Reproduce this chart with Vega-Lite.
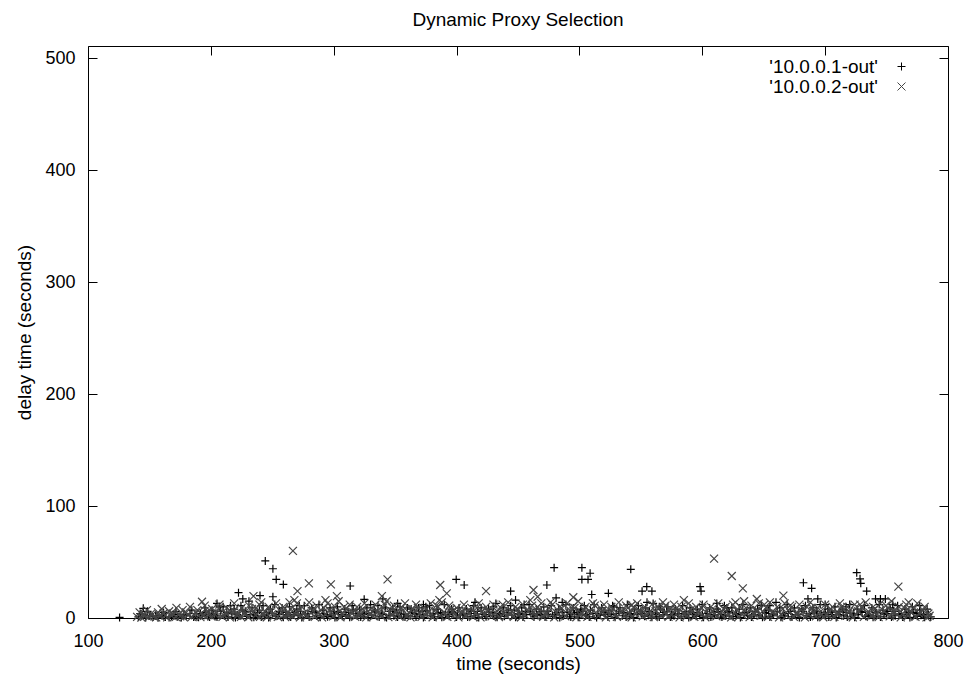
{
"$schema": "https://vega.github.io/schema/vega-lite/v6.json",
"width": 860, "height": 572,
"autosize": "none",
"padding": {"left": 88, "top": 46, "right": 20, "bottom": 63},
"background": "white",
"config": {"view": {"stroke": "#000000", "strokeWidth": 1}, "font": "Liberation Sans"},
"title": {"text": "Dynamic Proxy Selection", "font": "Liberation Sans", "fontSize": 19, "fontWeight": "normal", "color": "#000000", "anchor": "middle", "frame": "group", "baseline": "alphabetic", "offset": 1},
"data": {"values": [
{"t":125.7,"d":0.5,"s":"1"},{"t":141,"d":1,"s":"1"},{"t":144,"d":3,"s":"1"},{"t":147,"d":0.5,"s":"1"},{"t":150,"d":2,"s":"1"},{"t":153,"d":1,"s":"1"},{"t":157,"d":0.3,"s":"1"},{"t":160,"d":2.5,"s":"1"},{"t":163,"d":1,"s":"1"},{"t":166,"d":0.5,"s":"1"},
{"t":170,"d":3,"s":"1"},{"t":173,"d":1.2,"s":"1"},{"t":176,"d":0.4,"s":"1"},{"t":180,"d":2,"s":"1"},{"t":183,"d":4,"s":"1"},{"t":186,"d":1,"s":"1"},{"t":190,"d":0.6,"s":"1"},{"t":193,"d":2.5,"s":"1"},{"t":196,"d":5,"s":"1"},{"t":199,"d":1,"s":"1"},
{"t":202,"d":3,"s":"1"},{"t":205,"d":0.8,"s":"1"},{"t":208,"d":6,"s":"1"},{"t":211,"d":2,"s":"1"},{"t":214,"d":1,"s":"1"},{"t":217,"d":4,"s":"1"},{"t":220,"d":0.5,"s":"1"},{"t":223,"d":2,"s":"1"},{"t":226,"d":7,"s":"1"},{"t":229,"d":1.5,"s":"1"},
{"t":232,"d":3,"s":"1"},{"t":235,"d":0.6,"s":"1"},{"t":238,"d":5,"s":"1"},{"t":241,"d":1,"s":"1"},{"t":244,"d":2.5,"s":"1"},{"t":247,"d":0.4,"s":"1"},{"t":250,"d":4,"s":"1"},{"t":253,"d":1.5,"s":"1"},{"t":256,"d":6,"s":"1"},{"t":259,"d":0.7,"s":"1"},
{"t":262,"d":3,"s":"1"},{"t":265,"d":1,"s":"1"},{"t":268,"d":5,"s":"1"},{"t":271,"d":2,"s":"1"},{"t":274,"d":0.5,"s":"1"},{"t":277,"d":3.5,"s":"1"},{"t":280,"d":1,"s":"1"},{"t":283,"d":6,"s":"1"},{"t":286,"d":2,"s":"1"},{"t":289,"d":0.6,"s":"1"},
{"t":292,"d":4,"s":"1"},{"t":295,"d":1.2,"s":"1"},{"t":298,"d":2.5,"s":"1"},{"t":301,"d":0.5,"s":"1"},{"t":304,"d":5,"s":"1"},{"t":307,"d":1.5,"s":"1"},{"t":310,"d":3,"s":"1"},{"t":313,"d":0.7,"s":"1"},{"t":316,"d":7,"s":"1"},{"t":319,"d":2,"s":"1"},
{"t":322,"d":1,"s":"1"},{"t":325,"d":4,"s":"1"},{"t":328,"d":0.6,"s":"1"},{"t":331,"d":2.5,"s":"1"},{"t":334,"d":5.5,"s":"1"},{"t":337,"d":1,"s":"1"},{"t":340,"d":3,"s":"1"},{"t":343,"d":0.5,"s":"1"},{"t":346,"d":6,"s":"1"},{"t":349,"d":2,"s":"1"},
{"t":352,"d":1,"s":"1"},{"t":355,"d":4,"s":"1"},{"t":358,"d":0.8,"s":"1"},{"t":361,"d":2,"s":"1"},{"t":364,"d":5,"s":"1"},{"t":367,"d":1,"s":"1"},{"t":370,"d":3,"s":"1"},{"t":373,"d":0.5,"s":"1"},{"t":376,"d":6.5,"s":"1"},{"t":379,"d":2,"s":"1"},
{"t":382,"d":1,"s":"1"},{"t":385,"d":4,"s":"1"},{"t":388,"d":0.6,"s":"1"},{"t":391,"d":3,"s":"1"},{"t":394,"d":1.5,"s":"1"},{"t":397,"d":5,"s":"1"},{"t":400,"d":0.8,"s":"1"},{"t":403,"d":2.5,"s":"1"},{"t":406,"d":4,"s":"1"},{"t":409,"d":1,"s":"1"},
{"t":412,"d":6,"s":"1"},{"t":415,"d":2,"s":"1"},{"t":418,"d":0.5,"s":"1"},{"t":421,"d":3.5,"s":"1"},{"t":424,"d":1.2,"s":"1"},{"t":427,"d":5,"s":"1"},{"t":430,"d":2,"s":"1"},{"t":433,"d":0.7,"s":"1"},{"t":436,"d":4,"s":"1"},{"t":439,"d":1.5,"s":"1"},
{"t":442,"d":7,"s":"1"},{"t":445,"d":2.5,"s":"1"},{"t":448,"d":0.6,"s":"1"},{"t":451,"d":4,"s":"1"},{"t":454,"d":1,"s":"1"},{"t":457,"d":3,"s":"1"},{"t":460,"d":5.5,"s":"1"},{"t":463,"d":1,"s":"1"},{"t":466,"d":2.5,"s":"1"},{"t":469,"d":6,"s":"1"},
{"t":472,"d":0.8,"s":"1"},{"t":475,"d":3,"s":"1"},{"t":478,"d":1.5,"s":"1"},{"t":481,"d":4.5,"s":"1"},{"t":484,"d":0.5,"s":"1"},{"t":487,"d":2,"s":"1"},{"t":490,"d":5,"s":"1"},{"t":493,"d":1,"s":"1"},{"t":496,"d":3.5,"s":"1"},{"t":499,"d":0.7,"s":"1"},
{"t":502,"d":6,"s":"1"},{"t":505,"d":2,"s":"1"},{"t":508,"d":1,"s":"1"},{"t":511,"d":4,"s":"1"},{"t":514,"d":0.5,"s":"1"},{"t":517,"d":2.5,"s":"1"},{"t":520,"d":5,"s":"1"},{"t":523,"d":1.2,"s":"1"},{"t":526,"d":3,"s":"1"},{"t":529,"d":0.6,"s":"1"},
{"t":532,"d":6,"s":"1"},{"t":535,"d":2,"s":"1"},{"t":538,"d":1,"s":"1"},{"t":541,"d":4,"s":"1"},{"t":544,"d":0.5,"s":"1"},{"t":547,"d":3,"s":"1"},{"t":550,"d":5.5,"s":"1"},{"t":553,"d":1.5,"s":"1"},{"t":556,"d":2.5,"s":"1"},{"t":559,"d":0.7,"s":"1"},
{"t":562,"d":4.5,"s":"1"},{"t":565,"d":1,"s":"1"},{"t":568,"d":3,"s":"1"},{"t":571,"d":6,"s":"1"},{"t":574,"d":0.8,"s":"1"},{"t":577,"d":2,"s":"1"},{"t":580,"d":4,"s":"1"},{"t":583,"d":1,"s":"1"},{"t":586,"d":3,"s":"1"},{"t":589,"d":0.5,"s":"1"},
{"t":592,"d":5,"s":"1"},{"t":595,"d":1.5,"s":"1"},{"t":598,"d":2.5,"s":"1"},{"t":601,"d":0.6,"s":"1"},{"t":604,"d":4,"s":"1"},{"t":607,"d":1,"s":"1"},{"t":610,"d":3,"s":"1"},{"t":613,"d":6,"s":"1"},{"t":616,"d":0.8,"s":"1"},{"t":619,"d":2,"s":"1"},
{"t":622,"d":5,"s":"1"},{"t":625,"d":1.2,"s":"1"},{"t":628,"d":3,"s":"1"},{"t":631,"d":0.5,"s":"1"},{"t":634,"d":4.5,"s":"1"},{"t":637,"d":2,"s":"1"},{"t":640,"d":1,"s":"1"},{"t":643,"d":6,"s":"1"},{"t":646,"d":2.5,"s":"1"},{"t":649,"d":0.7,"s":"1"},
{"t":652,"d":4,"s":"1"},{"t":655,"d":1,"s":"1"},{"t":658,"d":3,"s":"1"},{"t":661,"d":5.5,"s":"1"},{"t":664,"d":0.6,"s":"1"},{"t":667,"d":2,"s":"1"},{"t":670,"d":4,"s":"1"},{"t":673,"d":1,"s":"1"},{"t":676,"d":3,"s":"1"},{"t":679,"d":0.5,"s":"1"},
{"t":682,"d":6,"s":"1"},{"t":685,"d":2,"s":"1"},{"t":688,"d":1,"s":"1"},{"t":691,"d":4.5,"s":"1"},{"t":694,"d":0.7,"s":"1"},{"t":697,"d":2.5,"s":"1"},{"t":700,"d":5,"s":"1"},{"t":703,"d":1,"s":"1"},{"t":706,"d":3,"s":"1"},{"t":709,"d":0.5,"s":"1"},
{"t":712,"d":6,"s":"1"},{"t":715,"d":2,"s":"1"},{"t":718,"d":1,"s":"1"},{"t":721,"d":4,"s":"1"},{"t":724,"d":0.6,"s":"1"},{"t":727,"d":3,"s":"1"},{"t":730,"d":5,"s":"1"},{"t":733,"d":1.5,"s":"1"},{"t":736,"d":2.5,"s":"1"},{"t":739,"d":0.7,"s":"1"},
{"t":742,"d":4.5,"s":"1"},{"t":745,"d":1,"s":"1"},{"t":748,"d":3,"s":"1"},{"t":751,"d":6,"s":"1"},{"t":754,"d":0.8,"s":"1"},{"t":757,"d":2,"s":"1"},{"t":760,"d":4,"s":"1"},{"t":763,"d":1,"s":"1"},{"t":766,"d":3,"s":"1"},{"t":769,"d":0.5,"s":"1"},
{"t":772,"d":5,"s":"1"},{"t":775,"d":1.5,"s":"1"},{"t":778,"d":2.5,"s":"1"},{"t":781,"d":0.6,"s":"1"},{"t":784,"d":3,"s":"1"},
{"t":142.5,"d":4,"s":"1"},{"t":148.5,"d":6,"s":"1"},{"t":155,"d":2,"s":"1"},{"t":161.5,"d":5,"s":"1"},{"t":168,"d":1.5,"s":"1"},{"t":171.5,"d":6,"s":"1"},{"t":178,"d":3,"s":"1"},{"t":184.5,"d":7,"s":"1"},{"t":188,"d":1.5,"s":"1"},{"t":191.5,"d":4,"s":"1"},
{"t":195,"d":9,"s":"1"},{"t":198,"d":3,"s":"1"},{"t":201,"d":7,"s":"1"},{"t":204,"d":2,"s":"1"},{"t":207,"d":10,"s":"1"},{"t":213,"d":5,"s":"1"},{"t":219,"d":8,"s":"1"},{"t":221.5,"d":3,"s":"1"},{"t":224.5,"d":11,"s":"1"},{"t":228,"d":6,"s":"1"},
{"t":233.5,"d":9,"s":"1"},{"t":236.5,"d":2,"s":"1"},{"t":239.5,"d":7,"s":"1"},{"t":242.5,"d":11,"s":"1"},{"t":245.5,"d":5,"s":"1"},{"t":248.5,"d":8,"s":"1"},{"t":252,"d":12,"s":"1"},{"t":255,"d":3,"s":"1"},{"t":258,"d":9,"s":"1"},{"t":261,"d":5,"s":"1"},
{"t":264,"d":10,"s":"1"},{"t":267,"d":3,"s":"1"},{"t":270,"d":8,"s":"1"},{"t":273,"d":6,"s":"1"},{"t":276,"d":11,"s":"1"},{"t":279,"d":4,"s":"1"},{"t":282,"d":9,"s":"1"},{"t":285,"d":5,"s":"1"},{"t":288,"d":12,"s":"1"},{"t":291,"d":7,"s":"1"},
{"t":294,"d":3,"s":"1"},{"t":297,"d":9,"s":"1"},{"t":300,"d":6,"s":"1"},{"t":303,"d":10,"s":"1"},{"t":306,"d":3,"s":"1"},{"t":309,"d":8,"s":"1"},{"t":312,"d":5,"s":"1"},{"t":315,"d":11,"s":"1"},{"t":318,"d":4,"s":"1"},{"t":321,"d":8,"s":"1"},
{"t":324,"d":3,"s":"1"},{"t":327,"d":9,"s":"1"},{"t":333,"d":7,"s":"1"},{"t":336,"d":11,"s":"1"},{"t":339,"d":4,"s":"1"},{"t":342,"d":9,"s":"1"},{"t":345,"d":2,"s":"1"},{"t":348,"d":8,"s":"1"},{"t":351,"d":5,"s":"1"},{"t":354,"d":10,"s":"1"},
{"t":357,"d":3,"s":"1"},{"t":363,"d":8,"s":"1"},{"t":366,"d":4,"s":"1"},{"t":369,"d":9,"s":"1"},{"t":372,"d":6,"s":"1"},{"t":378,"d":11,"s":"1"},{"t":381,"d":4,"s":"1"},{"t":384,"d":8,"s":"1"},{"t":387,"d":5,"s":"1"},{"t":390,"d":12,"s":"1"},
{"t":393,"d":3,"s":"1"},{"t":396,"d":6,"s":"1"},{"t":402,"d":9,"s":"1"},{"t":405,"d":3,"s":"1"},{"t":408,"d":8,"s":"1"},{"t":411,"d":4,"s":"1"},{"t":414,"d":11,"s":"1"},{"t":417,"d":6,"s":"1"},{"t":420,"d":9,"s":"1"},{"t":423,"d":3,"s":"1"},
{"t":426,"d":8,"s":"1"},{"t":429,"d":5,"s":"1"},{"t":432,"d":13,"s":"1"},{"t":435,"d":3,"s":"1"},{"t":438,"d":9,"s":"1"},{"t":441,"d":5,"s":"1"},{"t":444,"d":11,"s":"1"},{"t":447,"d":7,"s":"1"},{"t":450,"d":3,"s":"1"},{"t":453,"d":9,"s":"1"},
{"t":456,"d":6,"s":"1"},{"t":459,"d":12,"s":"1"},{"t":462,"d":4,"s":"1"},{"t":465,"d":8,"s":"1"},{"t":468,"d":3,"s":"1"},{"t":471,"d":10,"s":"1"},{"t":474,"d":6,"s":"1"},{"t":477,"d":11,"s":"1"},{"t":480,"d":3,"s":"1"},{"t":483,"d":8,"s":"1"},
{"t":486,"d":5,"s":"1"},{"t":489,"d":12,"s":"1"},{"t":492,"d":3,"s":"1"},{"t":495,"d":9,"s":"1"},{"t":498,"d":5,"s":"1"},{"t":501,"d":8,"s":"1"},{"t":504,"d":11,"s":"1"},{"t":506,"d":3,"s":"1"},{"t":509,"d":7,"s":"1"},{"t":512,"d":12,"s":"1"},
{"t":515,"d":4,"s":"1"},{"t":518,"d":9,"s":"1"},{"t":521,"d":3,"s":"1"},{"t":524,"d":7,"s":"1"},{"t":527,"d":11,"s":"1"},{"t":530,"d":4,"s":"1"},{"t":533,"d":9,"s":"1"},{"t":536,"d":5,"s":"1"},{"t":539,"d":12,"s":"1"},{"t":542,"d":3,"s":"1"},
{"t":545,"d":8,"s":"1"},{"t":548,"d":11,"s":"1"},{"t":551,"d":4,"s":"1"},{"t":554,"d":9,"s":"1"},{"t":557,"d":6,"s":"1"},{"t":560,"d":13,"s":"1"},{"t":563,"d":3,"s":"1"},{"t":566,"d":8,"s":"1"},{"t":569,"d":5,"s":"1"},{"t":572,"d":10,"s":"1"},
{"t":575,"d":3,"s":"1"},{"t":578,"d":8,"s":"1"},{"t":581,"d":4,"s":"1"},{"t":584,"d":11,"s":"1"},{"t":587,"d":6,"s":"1"},{"t":590,"d":9,"s":"1"},{"t":593,"d":3,"s":"1"},{"t":596,"d":8,"s":"1"},{"t":600,"d":12,"s":"1"},{"t":603,"d":4,"s":"1"},
{"t":606,"d":9,"s":"1"},{"t":609,"d":5,"s":"1"},{"t":612,"d":8,"s":"1"},{"t":615,"d":3,"s":"1"},{"t":618,"d":11,"s":"1"},{"t":621,"d":6,"s":"1"},{"t":624,"d":9,"s":"1"},{"t":627,"d":4,"s":"1"},{"t":630,"d":8,"s":"1"},{"t":633,"d":12,"s":"1"},
{"t":636,"d":5,"s":"1"},{"t":639,"d":9,"s":"1"},{"t":642,"d":3,"s":"1"},{"t":645,"d":8,"s":"1"},{"t":648,"d":11,"s":"1"},{"t":651,"d":5,"s":"1"},{"t":654,"d":7,"s":"1"},{"t":657,"d":3,"s":"1"},{"t":663,"d":9,"s":"1"},{"t":666,"d":4,"s":"1"},
{"t":669,"d":12,"s":"1"},{"t":672,"d":6,"s":"1"},{"t":675,"d":9,"s":"1"},{"t":678,"d":3,"s":"1"},{"t":681,"d":8,"s":"1"},{"t":684,"d":11,"s":"1"},{"t":687,"d":4,"s":"1"},{"t":690,"d":9,"s":"1"},{"t":693,"d":6,"s":"1"},{"t":696,"d":12,"s":"1"},
{"t":699,"d":3,"s":"1"},{"t":702,"d":8,"s":"1"},{"t":705,"d":5,"s":"1"},{"t":708,"d":10,"s":"1"},{"t":711,"d":3,"s":"1"},{"t":714,"d":8,"s":"1"},{"t":717,"d":5,"s":"1"},{"t":720,"d":12,"s":"1"},{"t":723,"d":4,"s":"1"},{"t":726,"d":8,"s":"1"},
{"t":729,"d":6,"s":"1"},{"t":732,"d":11,"s":"1"},{"t":735,"d":3,"s":"1"},{"t":738,"d":9,"s":"1"},{"t":741,"d":5,"s":"1"},{"t":744,"d":12,"s":"1"},{"t":747,"d":7,"s":"1"},{"t":750,"d":4,"s":"1"},{"t":753,"d":9,"s":"1"},{"t":756,"d":6,"s":"1"},
{"t":759,"d":11,"s":"1"},{"t":762,"d":3,"s":"1"},{"t":765,"d":8,"s":"1"},{"t":768,"d":5,"s":"1"},{"t":771,"d":10,"s":"1"},{"t":774,"d":4,"s":"1"},{"t":777,"d":7,"s":"1"},{"t":780,"d":3,"s":"1"},{"t":783,"d":8,"s":"1"},{"t":786,"d":1,"s":"1"},
{"t":145,"d":8.6,"s":"1"},{"t":205,"d":13,"s":"1"},{"t":210,"d":10,"s":"1"},{"t":216,"d":11,"s":"1"},{"t":222.5,"d":22.6,"s":"1"},{"t":226,"d":17,"s":"1"},{"t":231,"d":15,"s":"1"},{"t":240,"d":20,"s":"1"},{"t":244.3,"d":51,"s":"1"},{"t":250.5,"d":44,"s":"1"},
{"t":250.5,"d":19,"s":"1"},{"t":253.2,"d":34.5,"s":"1"},{"t":259,"d":30,"s":"1"},{"t":272,"d":11,"s":"1"},{"t":313.4,"d":28.6,"s":"1"},{"t":324.8,"d":16.7,"s":"1"},{"t":330,"d":12,"s":"1"},{"t":352,"d":13,"s":"1"},{"t":360,"d":9,"s":"1"},{"t":373,"d":12,"s":"1"},
{"t":396,"d":8,"s":"1"},{"t":399.7,"d":34.5,"s":"1"},{"t":406.2,"d":29.5,"s":"1"},{"t":415,"d":14,"s":"1"},{"t":430,"d":10,"s":"1"},{"t":444,"d":24,"s":"1"},{"t":448,"d":16,"s":"1"},{"t":455,"d":12,"s":"1"},{"t":473.5,"d":29.5,"s":"1"},{"t":479.4,"d":45,"s":"1"},
{"t":481,"d":18,"s":"1"},{"t":486,"d":14,"s":"1"},{"t":502,"d":45,"s":"1"},{"t":502,"d":34.5,"s":"1"},{"t":507,"d":34.5,"s":"1"},{"t":508.7,"d":40,"s":"1"},{"t":510,"d":21,"s":"1"},{"t":523.6,"d":22,"s":"1"},{"t":528,"d":10,"s":"1"},{"t":541.8,"d":43.5,"s":"1"},
{"t":551,"d":24,"s":"1"},{"t":554.8,"d":28,"s":"1"},{"t":559,"d":24,"s":"1"},{"t":555,"d":14,"s":"1"},{"t":565,"d":10,"s":"1"},{"t":598.2,"d":28,"s":"1"},{"t":599,"d":24,"s":"1"},{"t":611.8,"d":13,"s":"1"},{"t":620,"d":9,"s":"1"},{"t":655,"d":11,"s":"1"},
{"t":682.3,"d":31.5,"s":"1"},{"t":686,"d":17,"s":"1"},{"t":689,"d":26.5,"s":"1"},{"t":694,"d":17,"s":"1"},{"t":700,"d":12,"s":"1"},{"t":725.7,"d":40.5,"s":"1"},{"t":728.4,"d":35,"s":"1"},{"t":729,"d":31,"s":"1"},{"t":733.8,"d":24,"s":"1"},{"t":741,"d":17,"s":"1"},
{"t":745,"d":17,"s":"1"},{"t":749,"d":17,"s":"1"},{"t":755,"d":12,"s":"1"},{"t":777,"d":11,"s":"1"},{"t":717,"d":10,"s":"1"},{"t":660,"d":14,"s":"1"},{"t":375,"d":10,"s":"1"},{"t":340,"d":17,"s":"1"},
{"t":140,"d":1,"s":"2"},{"t":143.5,"d":0.4,"s":"2"},{"t":146.5,"d":2,"s":"2"},{"t":149.5,"d":1,"s":"2"},{"t":152.5,"d":3,"s":"2"},{"t":155.5,"d":0.6,"s":"2"},{"t":158.5,"d":1.8,"s":"2"},{"t":161.5,"d":4,"s":"2"},{"t":164.5,"d":0.5,"s":"2"},{"t":168,"d":2,"s":"2"},
{"t":171.5,"d":1,"s":"2"},{"t":174.5,"d":3.5,"s":"2"},{"t":177,"d":7,"s":"2"},{"t":178,"d":0.6,"s":"2"},{"t":181.5,"d":2.5,"s":"2"},{"t":184.5,"d":1,"s":"2"},{"t":188,"d":4.5,"s":"2"},{"t":191.5,"d":0.8,"s":"2"},{"t":192.8,"d":14.5,"s":"2"},{"t":194.5,"d":2,"s":"2"},
{"t":197.5,"d":6,"s":"2"},{"t":200.5,"d":1.2,"s":"2"},{"t":203.5,"d":3,"s":"2"},{"t":206.5,"d":9,"s":"2"},{"t":209.5,"d":1,"s":"2"},{"t":212.5,"d":4,"s":"2"},{"t":215.5,"d":0.5,"s":"2"},{"t":218.5,"d":6.5,"s":"2"},{"t":221.5,"d":2,"s":"2"},{"t":224.5,"d":1,"s":"2"},
{"t":227.5,"d":5,"s":"2"},{"t":230.5,"d":0.7,"s":"2"},{"t":233.5,"d":8,"s":"2"},{"t":234.7,"d":19.6,"s":"2"},{"t":236.5,"d":2.5,"s":"2"},{"t":239.5,"d":12,"s":"2"},{"t":240,"d":1,"s":"2"},{"t":242.5,"d":4,"s":"2"},{"t":245.5,"d":0.6,"s":"2"},{"t":248.5,"d":7,"s":"2"},
{"t":251.5,"d":2,"s":"2"},{"t":254.5,"d":1,"s":"2"},{"t":257.5,"d":5,"s":"2"},{"t":260.5,"d":0.8,"s":"2"},{"t":263.5,"d":3,"s":"2"},{"t":264,"d":14,"s":"2"},{"t":266.8,"d":60,"s":"2"},{"t":266.5,"d":1.5,"s":"2"},{"t":269.5,"d":6,"s":"2"},{"t":270,"d":13,"s":"2"},
{"t":270.5,"d":24,"s":"2"},{"t":272.5,"d":0.5,"s":"2"},{"t":275.5,"d":4,"s":"2"},{"t":278.5,"d":2,"s":"2"},{"t":279.8,"d":31,"s":"2"},{"t":281.5,"d":9,"s":"2"},{"t":284.5,"d":1,"s":"2"},{"t":287.5,"d":5,"s":"2"},{"t":290.5,"d":0.6,"s":"2"},{"t":293.3,"d":16,"s":"2"},
{"t":293.5,"d":3,"s":"2"},{"t":296.5,"d":7,"s":"2"},{"t":297.7,"d":30,"s":"2"},{"t":299.5,"d":1.5,"s":"2"},{"t":302.6,"d":19.6,"s":"2"},{"t":302.5,"d":4,"s":"2"},{"t":305.5,"d":0.7,"s":"2"},{"t":308.5,"d":10,"s":"2"},{"t":311.5,"d":2,"s":"2"},{"t":314.5,"d":5,"s":"2"},
{"t":317.5,"d":1,"s":"2"},{"t":320.5,"d":3,"s":"2"},{"t":323.5,"d":8,"s":"2"},{"t":326.5,"d":0.5,"s":"2"},{"t":329.5,"d":4,"s":"2"},{"t":332.5,"d":1.5,"s":"2"},{"t":335.5,"d":6,"s":"2"},{"t":338.5,"d":2,"s":"2"},{"t":339.2,"d":19.6,"s":"2"},{"t":341.5,"d":12,"s":"2"},
{"t":343.8,"d":34.5,"s":"2"},{"t":344.5,"d":0.8,"s":"2"},{"t":347.5,"d":3,"s":"2"},{"t":348,"d":9,"s":"2"},{"t":350.5,"d":5,"s":"2"},{"t":353.5,"d":1,"s":"2"},{"t":356.5,"d":7,"s":"2"},{"t":359.5,"d":2,"s":"2"},{"t":362.5,"d":0.5,"s":"2"},{"t":365.5,"d":4,"s":"2"},
{"t":368.5,"d":9,"s":"2"},{"t":371.5,"d":1,"s":"2"},{"t":374.5,"d":3,"s":"2"},{"t":377.5,"d":6,"s":"2"},{"t":380.5,"d":0.7,"s":"2"},{"t":383.5,"d":11,"s":"2"},{"t":386,"d":16,"s":"2"},{"t":386.7,"d":29.5,"s":"2"},{"t":386.5,"d":2,"s":"2"},{"t":389.5,"d":5,"s":"2"},
{"t":392,"d":22,"s":"2"},{"t":392.5,"d":1,"s":"2"},{"t":395.5,"d":8,"s":"2"},{"t":398.5,"d":3,"s":"2"},{"t":401.5,"d":0.6,"s":"2"},{"t":404.5,"d":6,"s":"2"},{"t":407.5,"d":2,"s":"2"},{"t":410.5,"d":4,"s":"2"},{"t":413.5,"d":1,"s":"2"},{"t":416.5,"d":9,"s":"2"},
{"t":419.5,"d":0.5,"s":"2"},{"t":422.5,"d":3,"s":"2"},{"t":424,"d":24,"s":"2"},{"t":425.5,"d":7,"s":"2"},{"t":428.5,"d":1.5,"s":"2"},{"t":431.5,"d":5,"s":"2"},{"t":434.5,"d":0.8,"s":"2"},{"t":437.5,"d":12,"s":"2"},{"t":440.5,"d":2,"s":"2"},{"t":443.5,"d":4,"s":"2"},
{"t":446.5,"d":1,"s":"2"},{"t":449.5,"d":8,"s":"2"},{"t":452.5,"d":0.6,"s":"2"},{"t":455.5,"d":3,"s":"2"},{"t":458.5,"d":6,"s":"2"},{"t":461.5,"d":11,"s":"2"},{"t":462.6,"d":25,"s":"2"},{"t":464.5,"d":2,"s":"2"},{"t":466,"d":19,"s":"2"},{"t":467.5,"d":7,"s":"2"},
{"t":470.5,"d":1,"s":"2"},{"t":473.5,"d":4,"s":"2"},{"t":476.5,"d":14,"s":"2"},{"t":479.5,"d":0.5,"s":"2"},{"t":482.5,"d":3,"s":"2"},{"t":485.5,"d":9,"s":"2"},{"t":488.5,"d":1.5,"s":"2"},{"t":491.5,"d":5,"s":"2"},{"t":494.5,"d":10,"s":"2"},{"t":495,"d":18.5,"s":"2"},
{"t":497.5,"d":0.7,"s":"2"},{"t":500.5,"d":3,"s":"2"},{"t":503.5,"d":7,"s":"2"},{"t":506.5,"d":1,"s":"2"},{"t":509.5,"d":4,"s":"2"},{"t":512.5,"d":11,"s":"2"},{"t":515.5,"d":2,"s":"2"},{"t":518.5,"d":6,"s":"2"},{"t":521.5,"d":0.6,"s":"2"},{"t":524.5,"d":3,"s":"2"},
{"t":527.5,"d":8,"s":"2"},{"t":530.5,"d":1,"s":"2"},{"t":533.5,"d":5,"s":"2"},{"t":536.5,"d":2,"s":"2"},{"t":539.5,"d":9,"s":"2"},{"t":542.6,"d":11.6,"s":"2"},{"t":542.5,"d":0.5,"s":"2"},{"t":545.5,"d":4,"s":"2"},{"t":548.5,"d":7,"s":"2"},{"t":551.5,"d":1.5,"s":"2"},
{"t":554.5,"d":3,"s":"2"},{"t":557.5,"d":6,"s":"2"},{"t":560.5,"d":0.8,"s":"2"},{"t":563.5,"d":10,"s":"2"},{"t":566.5,"d":2,"s":"2"},{"t":570,"d":11,"s":"2"},{"t":569.5,"d":5,"s":"2"},{"t":572.5,"d":1,"s":"2"},{"t":575.5,"d":3,"s":"2"},{"t":578.5,"d":8,"s":"2"},
{"t":581.5,"d":0.6,"s":"2"},{"t":585,"d":16,"s":"2"},{"t":584.5,"d":4,"s":"2"},{"t":587.5,"d":2,"s":"2"},{"t":590.5,"d":7,"s":"2"},{"t":593.5,"d":1,"s":"2"},{"t":596.5,"d":5,"s":"2"},{"t":599.5,"d":9,"s":"2"},{"t":602.5,"d":0.7,"s":"2"},{"t":605.5,"d":3,"s":"2"},
{"t":608.5,"d":6,"s":"2"},{"t":609.6,"d":53,"s":"2"},{"t":611.5,"d":1.5,"s":"2"},{"t":614.5,"d":4,"s":"2"},{"t":617.5,"d":8,"s":"2"},{"t":620.5,"d":2,"s":"2"},{"t":623.5,"d":0.5,"s":"2"},{"t":624,"d":37.5,"s":"2"},{"t":626.5,"d":5,"s":"2"},{"t":627,"d":14,"s":"2"},
{"t":629.5,"d":1,"s":"2"},{"t":632.5,"d":3,"s":"2"},{"t":633,"d":26.5,"s":"2"},{"t":635.5,"d":9,"s":"2"},{"t":638.5,"d":0.8,"s":"2"},{"t":641.5,"d":4,"s":"2"},{"t":644.4,"d":17,"s":"2"},{"t":644.5,"d":7,"s":"2"},{"t":647.5,"d":2,"s":"2"},{"t":650.5,"d":12,"s":"2"},
{"t":653.5,"d":1,"s":"2"},{"t":656.5,"d":5,"s":"2"},{"t":659.5,"d":3,"s":"2"},{"t":662.5,"d":0.6,"s":"2"},{"t":666,"d":20,"s":"2"},{"t":665.5,"d":8,"s":"2"},{"t":668.5,"d":2,"s":"2"},{"t":671.5,"d":11,"s":"2"},{"t":674.5,"d":1,"s":"2"},{"t":677.5,"d":4,"s":"2"},
{"t":680.5,"d":7,"s":"2"},{"t":683.5,"d":0.5,"s":"2"},{"t":686.5,"d":3,"s":"2"},{"t":689.5,"d":9,"s":"2"},{"t":692.5,"d":1.5,"s":"2"},{"t":695.5,"d":5,"s":"2"},{"t":698.5,"d":0.7,"s":"2"},{"t":701.5,"d":3,"s":"2"},{"t":704.5,"d":8,"s":"2"},{"t":707.5,"d":1,"s":"2"},
{"t":710.5,"d":4,"s":"2"},{"t":713.5,"d":10,"s":"2"},{"t":716.5,"d":2,"s":"2"},{"t":719.5,"d":6,"s":"2"},{"t":722.5,"d":0.6,"s":"2"},{"t":725.5,"d":3,"s":"2"},{"t":728.5,"d":12,"s":"2"},{"t":731.5,"d":1,"s":"2"},{"t":734.5,"d":5,"s":"2"},{"t":737.5,"d":2,"s":"2"},
{"t":740.5,"d":8,"s":"2"},{"t":743.5,"d":0.8,"s":"2"},{"t":746.5,"d":4,"s":"2"},{"t":749.5,"d":11,"s":"2"},{"t":752.5,"d":1.5,"s":"2"},{"t":755.5,"d":6,"s":"2"},{"t":758.5,"d":3,"s":"2"},{"t":759.6,"d":28,"s":"2"},{"t":761.5,"d":0.5,"s":"2"},{"t":764.5,"d":9,"s":"2"},
{"t":767.5,"d":2,"s":"2"},{"t":768,"d":14,"s":"2"},{"t":770.5,"d":5,"s":"2"},{"t":773.5,"d":1,"s":"2"},{"t":776.5,"d":4,"s":"2"},{"t":779.5,"d":7,"s":"2"},{"t":782.5,"d":0.6,"s":"2"},{"t":785,"d":2,"s":"2"},
{"t":142,"d":5,"s":"2"},{"t":145,"d":2.5,"s":"2"},{"t":148,"d":7,"s":"2"},{"t":151,"d":3.5,"s":"2"},{"t":154,"d":1.5,"s":"2"},{"t":157,"d":5,"s":"2"},{"t":160,"d":8,"s":"2"},{"t":163,"d":2.5,"s":"2"},{"t":166,"d":6,"s":"2"},{"t":169,"d":4,"s":"2"},
{"t":172,"d":9,"s":"2"},{"t":175,"d":1.5,"s":"2"},{"t":180,"d":5,"s":"2"},{"t":183,"d":10,"s":"2"},{"t":186,"d":3,"s":"2"},{"t":189,"d":7,"s":"2"},{"t":192,"d":4,"s":"2"},{"t":195,"d":11,"s":"2"},{"t":198,"d":2.5,"s":"2"},{"t":201,"d":8,"s":"2"},
{"t":204,"d":5,"s":"2"},{"t":207,"d":12,"s":"2"},{"t":210,"d":3,"s":"2"},{"t":213,"d":9,"s":"2"},{"t":216,"d":6,"s":"2"},{"t":219,"d":13,"s":"2"},{"t":222,"d":4,"s":"2"},{"t":225,"d":9,"s":"2"},{"t":228,"d":3,"s":"2"},{"t":231,"d":11,"s":"2"},
{"t":234,"d":5,"s":"2"},{"t":237,"d":9,"s":"2"},{"t":241,"d":14,"s":"2"},{"t":244,"d":6,"s":"2"},{"t":247,"d":10,"s":"2"},{"t":250,"d":3.5,"s":"2"},{"t":253,"d":13,"s":"2"},{"t":256,"d":7,"s":"2"},{"t":259,"d":10,"s":"2"},{"t":262,"d":4,"s":"2"},
{"t":265,"d":8,"s":"2"},{"t":268,"d":16,"s":"2"},{"t":271,"d":5,"s":"2"},{"t":274,"d":10,"s":"2"},{"t":277,"d":3,"s":"2"},{"t":280,"d":14,"s":"2"},{"t":283,"d":6,"s":"2"},{"t":286,"d":11,"s":"2"},{"t":289,"d":3.5,"s":"2"},{"t":292,"d":9,"s":"2"},
{"t":295,"d":13,"s":"2"},{"t":298,"d":5,"s":"2"},{"t":301,"d":10,"s":"2"},{"t":304,"d":15,"s":"2"},{"t":307,"d":4,"s":"2"},{"t":310,"d":8,"s":"2"},{"t":313,"d":12,"s":"2"},{"t":316,"d":5,"s":"2"},{"t":319,"d":10,"s":"2"},{"t":322,"d":3.5,"s":"2"},
{"t":325,"d":13,"s":"2"},{"t":328,"d":6,"s":"2"},{"t":331,"d":9,"s":"2"},{"t":334,"d":12,"s":"2"},{"t":337,"d":4,"s":"2"},{"t":340,"d":9,"s":"2"},{"t":343,"d":15,"s":"2"},{"t":346,"d":5,"s":"2"},{"t":349,"d":11,"s":"2"},{"t":352,"d":4,"s":"2"},
{"t":355,"d":9,"s":"2"},{"t":358,"d":13,"s":"2"},{"t":361,"d":5,"s":"2"},{"t":364,"d":8,"s":"2"},{"t":367,"d":12,"s":"2"},{"t":370,"d":4,"s":"2"},{"t":373,"d":9,"s":"2"},{"t":376,"d":3.5,"s":"2"},{"t":379,"d":13,"s":"2"},{"t":382,"d":6,"s":"2"},
{"t":385,"d":10,"s":"2"},{"t":388,"d":14,"s":"2"},{"t":391,"d":4,"s":"2"},{"t":394,"d":11,"s":"2"},{"t":397,"d":6,"s":"2"},{"t":400,"d":9,"s":"2"},{"t":403,"d":3.5,"s":"2"},{"t":406,"d":12,"s":"2"},{"t":409,"d":6,"s":"2"},{"t":412,"d":9,"s":"2"},
{"t":415,"d":4,"s":"2"},{"t":418,"d":13,"s":"2"},{"t":421,"d":6,"s":"2"},{"t":424,"d":10,"s":"2"},{"t":427,"d":3.5,"s":"2"},{"t":430,"d":12,"s":"2"},{"t":433,"d":6,"s":"2"},{"t":436,"d":9,"s":"2"},{"t":439,"d":4,"s":"2"},{"t":442,"d":14,"s":"2"},
{"t":445,"d":6,"s":"2"},{"t":448,"d":10,"s":"2"},{"t":451,"d":3.5,"s":"2"},{"t":454,"d":12,"s":"2"},{"t":457,"d":7,"s":"2"},{"t":460,"d":16,"s":"2"},{"t":463,"d":5,"s":"2"},{"t":466,"d":10,"s":"2"},{"t":469,"d":13,"s":"2"},{"t":472,"d":4,"s":"2"},
{"t":475,"d":9,"s":"2"},{"t":478,"d":12,"s":"2"},{"t":481,"d":5,"s":"2"},{"t":484,"d":10,"s":"2"},{"t":487,"d":3.5,"s":"2"},{"t":490,"d":13,"s":"2"},{"t":493,"d":6,"s":"2"},{"t":496,"d":9,"s":"2"},{"t":499,"d":15,"s":"2"},{"t":502,"d":4,"s":"2"},
{"t":505,"d":10,"s":"2"},{"t":508,"d":6,"s":"2"},{"t":511,"d":13,"s":"2"},{"t":514,"d":4,"s":"2"},{"t":517,"d":9,"s":"2"},{"t":520,"d":12,"s":"2"},{"t":523,"d":5,"s":"2"},{"t":526,"d":10,"s":"2"},{"t":529,"d":3.5,"s":"2"},{"t":532,"d":14,"s":"2"},
{"t":535,"d":6,"s":"2"},{"t":538,"d":11,"s":"2"},{"t":541,"d":4,"s":"2"},{"t":544,"d":9,"s":"2"},{"t":547,"d":13,"s":"2"},{"t":550,"d":5,"s":"2"},{"t":553,"d":10,"s":"2"},{"t":556,"d":3.5,"s":"2"},{"t":559,"d":12,"s":"2"},{"t":562,"d":6,"s":"2"},
{"t":565,"d":9,"s":"2"},{"t":568,"d":14,"s":"2"},{"t":571,"d":4,"s":"2"},{"t":574,"d":8,"s":"2"},{"t":577,"d":12,"s":"2"},{"t":580,"d":5,"s":"2"},{"t":583,"d":10,"s":"2"},{"t":586,"d":3.5,"s":"2"},{"t":589,"d":13,"s":"2"},{"t":592,"d":6,"s":"2"},
{"t":595,"d":10,"s":"2"},{"t":598,"d":4,"s":"2"},{"t":601,"d":12,"s":"2"},{"t":604,"d":7,"s":"2"},{"t":607,"d":10,"s":"2"},{"t":610,"d":4,"s":"2"},{"t":613,"d":13,"s":"2"},{"t":616,"d":6,"s":"2"},{"t":619,"d":10,"s":"2"},{"t":622,"d":3.5,"s":"2"},
{"t":625,"d":12,"s":"2"},{"t":628,"d":7,"s":"2"},{"t":631,"d":10,"s":"2"},{"t":634,"d":15,"s":"2"},{"t":637,"d":5,"s":"2"},{"t":640,"d":11,"s":"2"},{"t":643,"d":4,"s":"2"},{"t":646,"d":13,"s":"2"},{"t":649,"d":6,"s":"2"},{"t":652,"d":9,"s":"2"},
{"t":655,"d":14,"s":"2"},{"t":658,"d":5,"s":"2"},{"t":661,"d":10,"s":"2"},{"t":664,"d":3.5,"s":"2"},{"t":667,"d":13,"s":"2"},{"t":670,"d":7,"s":"2"},{"t":673,"d":10,"s":"2"},{"t":676,"d":4,"s":"2"},{"t":679,"d":12,"s":"2"},{"t":682,"d":6,"s":"2"},
{"t":685,"d":10,"s":"2"},{"t":688,"d":14,"s":"2"},{"t":691,"d":5,"s":"2"},{"t":694,"d":9,"s":"2"},{"t":697,"d":3.5,"s":"2"},{"t":700,"d":12,"s":"2"},{"t":703,"d":6,"s":"2"},{"t":706,"d":10,"s":"2"},{"t":709,"d":4,"s":"2"},{"t":712,"d":13,"s":"2"},
{"t":715,"d":7,"s":"2"},{"t":718,"d":10,"s":"2"},{"t":721,"d":3.5,"s":"2"},{"t":724,"d":12,"s":"2"},{"t":727,"d":6,"s":"2"},{"t":730,"d":9,"s":"2"},{"t":733,"d":14,"s":"2"},{"t":736,"d":5,"s":"2"},{"t":739,"d":10,"s":"2"},{"t":742,"d":4,"s":"2"},
{"t":745,"d":13,"s":"2"},{"t":748,"d":6,"s":"2"},{"t":751,"d":9,"s":"2"},{"t":754,"d":15,"s":"2"},{"t":757,"d":5,"s":"2"},{"t":760,"d":10,"s":"2"},{"t":763,"d":4,"s":"2"},{"t":766,"d":12,"s":"2"},{"t":769,"d":6,"s":"2"},{"t":772,"d":9,"s":"2"},
{"t":775,"d":13,"s":"2"},{"t":778,"d":5,"s":"2"},{"t":781,"d":10,"s":"2"},{"t":784,"d":4,"s":"2"}
]},
"layer": [
{"mark": {"type": "point", "filled": false, "opacity": 1, "strokeWidth": 1.2, "size": 64},
 "encoding": {
  "x": {"field": "t", "type": "quantitative", "scale": {"domain": [100, 800], "nice": false, "zero": false},
        "axis": {"orient": "bottom", "values": [100,200,300,400,500,600,700,800], "grid": false, "domain": false, "ticks": true, "tickSize": -9, "tickColor": "#000000", "labelFont": "Liberation Sans", "labelFontSize": 18, "labelColor": "#000000", "labelPadding": 23, "labelFlush": false, "labelOverlap": false,
                 "title": "time (seconds)", "titleFont": "Liberation Sans", "titleFontSize": 19, "titleFontWeight": "normal", "titleColor": "#000000", "titleY": 51, "titleBaseline": "alphabetic"}},
  "y": {"field": "d", "type": "quantitative", "scale": {"domain": [0, 511], "nice": false, "zero": true},
        "axis": {"orient": "left", "values": [0,100,200,300,400,500], "grid": false, "domain": false, "ticks": true, "tickSize": -9, "tickColor": "#000000", "labelFont": "Liberation Sans", "labelFontSize": 18, "labelColor": "#000000", "labelPadding": 22, "labelFlush": false, "labelOverlap": false,
                 "title": "delay time (seconds)", "titleFont": "Liberation Sans", "titleFontSize": 19, "titleFontWeight": "normal", "titleColor": "#000000", "titleX": -64, "titleY": 286, "titleAngle": -90, "titleAlign": "center", "titleBaseline": "middle"}},
  "shape": {"field": "s", "type": "nominal", "scale": {"domain": ["1", "2"], "range": ["M-1,0L1,0M0,-1L0,1", "M-1,-1L1,1M-1,1L1,-1"]},
            "legend": {"title": null, "orient": "none", "legendX": 658, "legendY": 11, "direction": "vertical", "padding": 0, "offset": 0, "labelFont": "Liberation Sans", "labelFontSize": 19, "labelColor": "#000000", "labelAlign": "right", "labelOffset": -33, "symbolOffset": 146, "symbolSize": 64, "symbolStrokeWidth": 1, "rowPadding": -3,
                       "labelExpr": "datum.label === '1' ? \"'10.0.0.1-out'\" : \"'10.0.0.2-out'\""}},
  "color": {"field": "s", "type": "nominal", "scale": {"domain": ["1", "2"], "range": ["#000000", "#454545"]},
            "legend": {"title": null, "orient": "none", "legendX": 658, "legendY": 11, "direction": "vertical", "padding": 0, "offset": 0, "labelFont": "Liberation Sans", "labelFontSize": 19, "labelColor": "#000000", "labelAlign": "right", "labelOffset": -33, "symbolOffset": 146, "symbolSize": 64, "symbolStrokeWidth": 1, "rowPadding": -3,
                       "labelExpr": "datum.label === '1' ? \"'10.0.0.1-out'\" : \"'10.0.0.2-out'\""}}
 }},
{"mark": {"type": "point", "opacity": 0},
 "encoding": {
  "x": {"field": "t", "type": "quantitative", "axis": {"orient": "top", "values": [100,200,300,400,500,600,700,800], "grid": false, "domain": false, "labels": false, "title": null, "tickSize": -9, "tickColor": "#000000"}},
  "y": {"field": "d", "type": "quantitative", "axis": {"orient": "right", "values": [0,100,200,300,400,500], "grid": false, "domain": false, "labels": false, "title": null, "tickSize": -9, "tickColor": "#000000"}}
 }}
],
"resolve": {"axis": {"x": "independent", "y": "independent"}}
}
